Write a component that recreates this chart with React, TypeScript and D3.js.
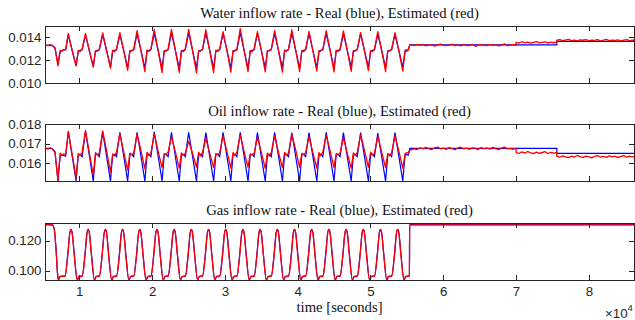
import { useEffect, useRef } from "react";
import * as d3 from "d3";

type Pt = [number, number];

// time axis (seconds), shown as x10^4
const xDomain: [number, number] = [5290, 86200];
const xTicks = [10000, 20000, 30000, 40000, 50000, 60000, 70000, 80000];

// sample times of the oscillating part, shared by the water and oil plots
const oscTimes = [
  5290, 5700, 6000, 6290, 6660, 7076, 7250, 7400, 7600, 7850, 8130,
  8490, 9030, 9560, 9860, 10110, 10390,
  10852, 11392, 11922, 12222, 12472, 12752,
  13214, 13754, 14284, 14584, 14834, 15114,
  15576, 16116, 16646, 16946, 17196, 17476,
  17938, 18478, 19008, 19308, 19558, 19838,
  20300, 20840, 21370, 21670, 21920, 22200,
  22662, 23202, 23732, 24032, 24282, 24562,
  25024, 25564, 26094, 26394, 26644, 26924,
  27386, 27926, 28456, 28756, 29006, 29286,
  29748, 30288, 30818, 31118, 31368, 31648,
  32110, 32650, 33180, 33480, 33730, 34010,
  34472, 35012, 35542, 35842, 36092, 36372,
  36834, 37374, 37904, 38204, 38454, 38734,
  39196, 39736, 40266, 40566, 40816, 41096,
  41558, 42098, 42628, 42928, 43178, 43458,
  43920, 44460, 44990, 45290, 45540, 45820,
  46282, 46822, 47352, 47652, 47902, 48182,
  48644, 49184, 49714, 50014, 50264, 50544,
  51006, 51546, 52076, 52376, 52626, 52906,
  53368, 53908, 54438, 54760, 55000, 55200,
  55400,
];

const waterReal = [
  0.0133, 0.0133, 0.0133, 0.01328, 0.0131, 0.0116, 0.0123, 0.0128, 0.01284, 0.0129, 0.01292,
  0.0142, 0.01285, 0.0115, 0.0128, 0.01286, 0.01292,
  0.0142, 0.01283, 0.01145, 0.0128, 0.01286, 0.01292,
  0.01425, 0.01283, 0.0114, 0.0128, 0.01286, 0.01292,
  0.01425, 0.0128, 0.01135, 0.0128, 0.01286, 0.01292,
  0.01432, 0.01282, 0.01132, 0.0128, 0.01286, 0.01292,
  0.01438, 0.01284, 0.0113, 0.0128, 0.01286, 0.01292,
  0.0144, 0.01285, 0.0113, 0.0128, 0.01286, 0.01292,
  0.0144, 0.01285, 0.0113, 0.0128, 0.01286, 0.01292,
  0.01438, 0.01284, 0.0113, 0.0128, 0.01286, 0.01292,
  0.01436, 0.01284, 0.01132, 0.0128, 0.01286, 0.01292,
  0.0144, 0.01285, 0.0113, 0.0128, 0.01286, 0.01292,
  0.01436, 0.01284, 0.01132, 0.0128, 0.01286, 0.01292,
  0.01436, 0.01284, 0.01132, 0.0128, 0.01286, 0.01292,
  0.01438, 0.01285, 0.01132, 0.0128, 0.01286, 0.01292,
  0.01434, 0.01284, 0.01134, 0.0128, 0.01286, 0.01292,
  0.01434, 0.01284, 0.01134, 0.0128, 0.01286, 0.01292,
  0.01432, 0.01284, 0.01136, 0.0128, 0.01286, 0.01292,
  0.01428, 0.01282, 0.01136, 0.0128, 0.01286, 0.01292,
  0.01428, 0.01283, 0.01138, 0.0128, 0.01286, 0.01292,
  0.01424, 0.01282, 0.0114, 0.01288, 0.0129, 0.0129,
  0.01334,
];

const waterEst = [
  0.01334, 0.01328, 0.01336, 0.0133, 0.01305, 0.0115, 0.0124, 0.01286, 0.01278, 0.01295, 0.0129,
  0.01435, 0.01282, 0.0115, 0.01286, 0.01276, 0.01296,
  0.01435, 0.01278, 0.0114, 0.01282, 0.01279, 0.01294,
  0.0144, 0.01286, 0.0113, 0.01288, 0.01274, 0.01297,
  0.01442, 0.0128, 0.0111, 0.01284, 0.0128, 0.01293,
  0.0146, 0.01284, 0.011, 0.0129, 0.01275, 0.01298,
  0.01468, 0.01279, 0.01092, 0.01283, 0.01278, 0.01295,
  0.0147, 0.01287, 0.01092, 0.01287, 0.01273, 0.01299,
  0.0147, 0.01283, 0.01088, 0.01281, 0.0128, 0.01294,
  0.01468, 0.01278, 0.01092, 0.01289, 0.01276, 0.01297,
  0.0145, 0.01285, 0.01095, 0.01284, 0.01279, 0.01292,
  0.01478, 0.01281, 0.011, 0.01286, 0.01274, 0.01298,
  0.0145, 0.01287, 0.01098, 0.01282, 0.01281, 0.01295,
  0.0146, 0.01279, 0.01095, 0.0129, 0.01277, 0.01296,
  0.01466, 0.01284, 0.011, 0.01285, 0.01275, 0.01293,
  0.01452, 0.0128, 0.01105, 0.01283, 0.0128, 0.01298,
  0.0146, 0.01286, 0.01098, 0.01288, 0.01276, 0.01294,
  0.01458, 0.01282, 0.01102, 0.01284, 0.01279, 0.01297,
  0.01442, 0.01279, 0.01108, 0.01287, 0.01274, 0.01295,
  0.0145, 0.01285, 0.011, 0.01283, 0.0128, 0.01296,
  0.01442, 0.01281, 0.01104, 0.01284, 0.01278, 0.01292,
  0.01336,
];

const oilReal = [
  0.01676, 0.01676, 0.01676, 0.01674, 0.0166, 0.0151, 0.0159, 0.01645, 0.01642, 0.0164, 0.01636,
  0.0176, 0.01635, 0.0151, 0.01642, 0.01646, 0.01634,
  0.01762, 0.01636, 0.0151, 0.01642, 0.01646, 0.01634,
  0.0176, 0.01635, 0.0151, 0.01642, 0.01646, 0.01634,
  0.01758, 0.01634, 0.0151, 0.01642, 0.01646, 0.01634,
  0.01758, 0.01634, 0.0151, 0.01642, 0.01646, 0.01634,
  0.0176, 0.01635, 0.0151, 0.01642, 0.01646, 0.01634,
  0.01758, 0.01634, 0.0151, 0.01642, 0.01646, 0.01634,
  0.01758, 0.01634, 0.0151, 0.01642, 0.01646, 0.01634,
  0.01756, 0.01633, 0.0151, 0.01642, 0.01646, 0.01634,
  0.01758, 0.01634, 0.0151, 0.01642, 0.01646, 0.01634,
  0.01758, 0.01634, 0.0151, 0.01642, 0.01646, 0.01634,
  0.01756, 0.01633, 0.0151, 0.01642, 0.01646, 0.01634,
  0.01758, 0.01634, 0.0151, 0.01642, 0.01646, 0.01634,
  0.01756, 0.01633, 0.0151, 0.01642, 0.01646, 0.01634,
  0.01756, 0.01633, 0.0151, 0.01642, 0.01646, 0.01634,
  0.01758, 0.01634, 0.0151, 0.01642, 0.01646, 0.01634,
  0.01756, 0.01633, 0.0151, 0.01642, 0.01646, 0.01634,
  0.01756, 0.01633, 0.0151, 0.01642, 0.01646, 0.01634,
  0.01754, 0.01632, 0.0151, 0.01642, 0.01646, 0.01634,
  0.01756, 0.01633, 0.0151, 0.01645, 0.01644, 0.01642,
  0.01676,
];

const oilEst = [
  0.01678, 0.01672, 0.0168, 0.01674, 0.01655, 0.01512, 0.016, 0.01652, 0.0164, 0.01648, 0.01645,
  0.01762, 0.01646, 0.01525, 0.0165, 0.0164, 0.01654,
  0.01768, 0.0165, 0.0154, 0.01654, 0.01643, 0.01651,
  0.01765, 0.01663, 0.01555, 0.01648, 0.01638, 0.01656,
  0.01752, 0.01655, 0.01565, 0.01652, 0.01644, 0.0165,
  0.01748, 0.01664, 0.01572, 0.01656, 0.01639, 0.01653,
  0.0175, 0.0166, 0.01578, 0.01649, 0.01645, 0.01657,
  0.01735, 0.01658, 0.01575, 0.01653, 0.01641, 0.0165,
  0.01712, 0.0165, 0.0158, 0.01657, 0.01638, 0.01654,
  0.01727, 0.01649, 0.01578, 0.0165, 0.01644, 0.01652,
  0.0174, 0.01661, 0.01576, 0.01654, 0.0164, 0.01656,
  0.01745, 0.01658, 0.0158, 0.01648, 0.01643, 0.01651,
  0.01732, 0.01656, 0.01574, 0.01652, 0.01637, 0.01655,
  0.01738, 0.01654, 0.01578, 0.01656, 0.01642, 0.0165,
  0.01748, 0.01667, 0.0158, 0.01651, 0.01645, 0.01654,
  0.01736, 0.01653, 0.01576, 0.01655, 0.01639, 0.01657,
  0.01742, 0.01662, 0.01578, 0.01649, 0.01644, 0.01652,
  0.0173, 0.0165, 0.01575, 0.01653, 0.0164, 0.01655,
  0.01745, 0.01665, 0.0158, 0.01657, 0.01643, 0.0165,
  0.01738, 0.01655, 0.01578, 0.0165, 0.01638, 0.01654,
  0.0174, 0.0166, 0.01575, 0.01648, 0.01655, 0.0165,
  0.01668,
];

// steady part after ~5.5e4 s
const waterRealFlat: Pt[] = [
  [55600, 0.01334], [75600, 0.01334], [75600, 0.01366], [86200, 0.01366],
];
const oilRealFlat: Pt[] = [
  [55600, 0.01676], [75600, 0.01676], [75600, 0.01651], [86200, 0.01651],
];

const waterEstFlat: Pt[] = [
  [55600, 0.01334], [56000, 0.01327], [56400, 0.01338], [56800, 0.01331], [57200, 0.01339],
  [57600, 0.01326], [58000, 0.01332], [58400, 0.01337], [58800, 0.01324], [59200, 0.01334],
  [59600, 0.01342], [60000, 0.0133], [60400, 0.01327], [60800, 0.01333], [61200, 0.0134],
  [61600, 0.01328], [62000, 0.01335], [62400, 0.01325], [62800, 0.01336], [63200, 0.01331],
  [63600, 0.01329], [64000, 0.01338], [64400, 0.01322], [64800, 0.01333], [65200, 0.01337],
  [65600, 0.01331], [66000, 0.01327], [66400, 0.0134], [66800, 0.0133], [67200, 0.01336],
  [67600, 0.01326], [68000, 0.01333], [68400, 0.01344], [68800, 0.01328], [69200, 0.01332],
  [69600, 0.01337], [70000, 0.01331],
  [70000, 0.01357], [70400, 0.01351], [70800, 0.01362], [71200, 0.01353], [71600, 0.01359],
  [72000, 0.01349], [72400, 0.01357], [72800, 0.01363], [73200, 0.01352], [73600, 0.01356],
  [74000, 0.0136], [74400, 0.0135], [74800, 0.01358], [75200, 0.01353], [75600, 0.01358],
  [75600, 0.01375], [76000, 0.0138], [76400, 0.01371], [76800, 0.01377], [77200, 0.01383],
  [77600, 0.01372], [78000, 0.01376], [78400, 0.01369], [78800, 0.01379], [79200, 0.01375],
  [79600, 0.01381], [80000, 0.01371], [80400, 0.01377], [80800, 0.01373], [81200, 0.0138],
  [81600, 0.0137], [82000, 0.01376], [82400, 0.01382], [82800, 0.01372], [83200, 0.01377],
  [83600, 0.01374], [84000, 0.01379], [84400, 0.0137], [84800, 0.01376], [85200, 0.0138],
  [85600, 0.01372], [86000, 0.01377], [86200, 0.01375],
];

const oilEstFlat: Pt[] = [
  [55600, 0.01668], [56000, 0.01674], [56400, 0.0167], [56800, 0.01679], [57200, 0.01673],
  [57600, 0.01681], [58000, 0.01675], [58400, 0.0167], [58800, 0.01678], [59200, 0.01683],
  [59600, 0.01674], [60000, 0.01677], [60400, 0.01671], [60800, 0.0168], [61200, 0.01675],
  [61600, 0.01669], [62000, 0.01678], [62400, 0.01682], [62800, 0.01673], [63200, 0.01677],
  [63600, 0.01671], [64000, 0.01679], [64400, 0.01676], [64800, 0.0167], [65200, 0.0168],
  [65600, 0.01674], [66000, 0.01678], [66400, 0.01672], [66800, 0.01681], [67200, 0.01675],
  [67600, 0.0167], [68000, 0.01677], [68400, 0.01683], [68800, 0.01673], [69200, 0.01676],
  [69600, 0.01671], [70000, 0.01677],
  [70000, 0.01656], [70400, 0.0165], [70800, 0.01658], [71200, 0.01652], [71600, 0.0166],
  [72000, 0.01653], [72400, 0.01649], [72800, 0.01657], [73200, 0.01651], [73600, 0.01655],
  [74000, 0.01659], [74400, 0.0165], [74800, 0.01656], [75200, 0.01652], [75600, 0.01655],
  [75600, 0.01636], [76000, 0.01631], [76400, 0.01638], [76800, 0.01633], [77200, 0.01629],
  [77600, 0.01637], [78000, 0.01632], [78400, 0.0164], [78800, 0.01634], [79200, 0.0163],
  [79600, 0.01637], [80000, 0.01633], [80400, 0.01628], [80800, 0.01636], [81200, 0.01639],
  [81600, 0.01632], [82000, 0.01635], [82400, 0.0163], [82800, 0.01638], [83200, 0.01633],
  [83600, 0.01636], [84000, 0.01629], [84400, 0.01635], [84800, 0.01639], [85200, 0.01631],
  [85600, 0.01636], [86000, 0.01632], [86200, 0.01635],
];

// gas plot samples
const gasTimes = [
  5290, 6290, 6550, 6800, 7050, 7150, 7350,
  8040, 8410, 8710, 8860, 9010, 9310, 9720, 9960,
  10402, 10772, 11072, 11222, 11372, 11672, 12082, 12322,
  12764, 13134, 13434, 13584, 13734, 14034, 14444, 14684,
  15126, 15496, 15796, 15946, 16096, 16396, 16806, 17046,
  17488, 17858, 18158, 18308, 18458, 18758, 19168, 19408,
  19850, 20220, 20520, 20670, 20820, 21120, 21530, 21770,
  22212, 22582, 22882, 23032, 23182, 23482, 23892, 24132,
  24574, 24944, 25244, 25394, 25544, 25844, 26254, 26494,
  26936, 27306, 27606, 27756, 27906, 28206, 28616, 28856,
  29298, 29668, 29968, 30118, 30268, 30568, 30978, 31218,
  31660, 32030, 32330, 32480, 32630, 32930, 33340, 33580,
  34022, 34392, 34692, 34842, 34992, 35292, 35702, 35942,
  36384, 36754, 37054, 37204, 37354, 37654, 38064, 38304,
  38746, 39116, 39416, 39566, 39716, 40016, 40426, 40666,
  41108, 41478, 41778, 41928, 42078, 42378, 42788, 43028,
  43470, 43840, 44140, 44290, 44440, 44740, 45150, 45390,
  45832, 46202, 46502, 46652, 46802, 47102, 47512, 47752,
  48194, 48564, 48864, 49014, 49164, 49464, 49874, 50114,
  50556, 50926, 51226, 51376, 51526, 51826, 52236, 52476,
  52918, 53288, 53588, 53738, 53888, 54188, 54598, 54838,
  55350, 55380, 86200,
];

const gasReal = [
  0.1307, 0.1306, 0.128, 0.115, 0.096, 0.0938, 0.0962,
  0.0965, 0.1105, 0.1258, 0.1276, 0.1258, 0.111, 0.0938, 0.0962,
  0.0965, 0.1105, 0.1258, 0.1276, 0.1258, 0.111, 0.0938, 0.0962,
  0.0965, 0.1105, 0.1258, 0.1276, 0.1258, 0.111, 0.0938, 0.0962,
  0.0965, 0.1105, 0.1258, 0.1276, 0.1258, 0.111, 0.0938, 0.0962,
  0.0965, 0.1105, 0.1258, 0.1276, 0.1258, 0.111, 0.0938, 0.0962,
  0.0965, 0.1105, 0.1258, 0.1276, 0.1258, 0.111, 0.0938, 0.0962,
  0.0965, 0.1105, 0.1258, 0.1276, 0.1258, 0.111, 0.0938, 0.0962,
  0.0965, 0.1105, 0.1258, 0.1276, 0.1258, 0.111, 0.0938, 0.0962,
  0.0965, 0.1105, 0.1258, 0.1276, 0.1258, 0.111, 0.0938, 0.0962,
  0.0965, 0.1105, 0.1258, 0.1276, 0.1258, 0.111, 0.0938, 0.0962,
  0.0965, 0.1105, 0.1258, 0.1276, 0.1258, 0.111, 0.0938, 0.0962,
  0.0965, 0.1105, 0.1258, 0.1276, 0.1258, 0.111, 0.0938, 0.0962,
  0.0965, 0.1105, 0.1258, 0.1276, 0.1258, 0.111, 0.0938, 0.0962,
  0.0965, 0.1105, 0.1258, 0.1276, 0.1258, 0.111, 0.0938, 0.0962,
  0.0965, 0.1105, 0.1258, 0.1276, 0.1258, 0.111, 0.0938, 0.0962,
  0.0965, 0.1105, 0.1258, 0.1276, 0.1258, 0.111, 0.0938, 0.0962,
  0.0965, 0.1105, 0.1258, 0.1276, 0.1258, 0.111, 0.0938, 0.0962,
  0.0965, 0.1105, 0.1258, 0.1276, 0.1258, 0.111, 0.0938, 0.0962,
  0.0965, 0.1105, 0.1258, 0.1276, 0.1258, 0.111, 0.0938, 0.0962,
  0.0965, 0.1105, 0.1258, 0.1276, 0.1258, 0.111, 0.0938, 0.0962,
  0.0965, 0.1307, 0.1307,
];

const gasEst = [
  0.1307, 0.1306, 0.1278, 0.1145, 0.0962, 0.0939, 0.096,
  0.0963, 0.1098, 0.1252, 0.1274, 0.1254, 0.1104, 0.0939, 0.096,
  0.0962, 0.1096, 0.1253, 0.1275, 0.1252, 0.1102, 0.0939, 0.0961,
  0.0963, 0.1099, 0.1251, 0.1274, 0.1255, 0.1105, 0.0939, 0.096,
  0.0962, 0.1097, 0.1252, 0.1275, 0.1253, 0.1103, 0.0939, 0.0961,
  0.0963, 0.1098, 0.1254, 0.1274, 0.1252, 0.1104, 0.0939, 0.096,
  0.0962, 0.1096, 0.1252, 0.1275, 0.1254, 0.1102, 0.0939, 0.0961,
  0.0963, 0.1099, 0.1251, 0.1274, 0.1253, 0.1105, 0.0939, 0.096,
  0.0962, 0.1097, 0.1253, 0.1275, 0.1252, 0.1103, 0.0939, 0.0961,
  0.0963, 0.1098, 0.1252, 0.1274, 0.1255, 0.1104, 0.0939, 0.096,
  0.0962, 0.1096, 0.1254, 0.1275, 0.1253, 0.1102, 0.0939, 0.0961,
  0.0963, 0.1099, 0.1251, 0.1274, 0.1252, 0.1105, 0.0939, 0.096,
  0.0962, 0.1097, 0.1253, 0.1275, 0.1254, 0.1103, 0.0939, 0.0961,
  0.0963, 0.1098, 0.1252, 0.1274, 0.1253, 0.1104, 0.0939, 0.096,
  0.0962, 0.1096, 0.1254, 0.1275, 0.1252, 0.1102, 0.0939, 0.0961,
  0.0963, 0.1099, 0.1251, 0.1274, 0.1255, 0.1105, 0.0939, 0.096,
  0.0962, 0.1097, 0.1253, 0.1275, 0.1253, 0.1103, 0.0939, 0.0961,
  0.0963, 0.1098, 0.1252, 0.1274, 0.1254, 0.1104, 0.0939, 0.096,
  0.0962, 0.1096, 0.1254, 0.1275, 0.1252, 0.1102, 0.0939, 0.0961,
  0.0963, 0.1099, 0.1251, 0.1274, 0.1253, 0.1105, 0.0939, 0.096,
  0.0962, 0.1097, 0.1253, 0.1275, 0.1254, 0.1103, 0.0939, 0.0961,
  0.0963, 0.1306, 0.1306,
];

const zip = (ts: number[], vs: number[]): Pt[] => ts.map((t, i) => [t, vs[i]]);

const panels = [
  {
    title: "Water inflow rate - Real (blue), Estimated (red)",
    top: 26,
    bottom: 83,
    yDomain: [0.01, 0.015],
    yTicks: [0.01, 0.012, 0.014],
    real: [...zip(oscTimes, waterReal), ...waterRealFlat],
    est: [...zip(oscTimes, waterEst), ...waterEstFlat],
    curve: d3.curveLinear,
  },
  {
    title: "Oil inflow rate - Real (blue), Estimated (red)",
    top: 124,
    bottom: 181,
    yDomain: [0.0151, 0.018],
    yTicks: [0.016, 0.017, 0.018],
    real: [...zip(oscTimes, oilReal), ...oilRealFlat],
    est: [...zip(oscTimes, oilEst), ...oilEstFlat],
    curve: d3.curveLinear,
  },
  {
    title: "Gas inflow rate - Real (blue), Estimated (red)",
    top: 223.3,
    bottom: 280,
    yDomain: [0.0938, 0.1316],
    yTicks: [0.1, 0.12],
    real: zip(gasTimes, gasReal),
    est: zip(gasTimes, gasEst),
    curve: d3.curveMonotoneX,
  },
];

const W = 635;
const H = 320;
const left = 45;
const right = 634;
const axisColor = "#262626";
const sans = "'Liberation Sans', Arial, Helvetica, sans-serif";
const serif = "'Liberation Serif', 'Times New Roman', serif";

const App = () => {
  const svgRef = useRef<SVGSVGElement | null>(null);

  useEffect(() => {
    const svg = d3.select(svgRef.current);
    svg.selectAll("*").remove();

    const x = d3.scaleLinear().domain(xDomain).range([left, right]);

    panels.forEach((p, i) => {
      const y = d3.scaleLinear().domain(p.yDomain).range([p.bottom, p.top]);
      const g = svg.append("g");
      const clipId = `clip-${i}`;

      svg
        .append("clipPath")
        .attr("id", clipId)
        .append("rect")
        .attr("x", left)
        .attr("y", p.top)
        .attr("width", right - left)
        .attr("height", p.bottom - p.top);

      const line = d3
        .line<Pt>()
        .x((d) => x(d[0]))
        .y((d) => y(d[1]))
        .curve(p.curve);

      g.append("path")
        .datum(p.real)
        .attr("d", line)
        .attr("fill", "none")
        .attr("stroke", "#0000ff")
        .attr("stroke-width", 1.2)
        .attr("clip-path", `url(#${clipId})`);

      g.append("path")
        .datum(p.est)
        .attr("d", line)
        .attr("fill", "none")
        .attr("stroke", "#ff0000")
        .attr("stroke-width", 1.3)
        .attr("stroke-linejoin", "round")
        .attr("clip-path", `url(#${clipId})`);

      const last = i === panels.length - 1;

      const styleAxis = (a: d3.Selection<SVGGElement, unknown, null, undefined>) =>
        a
          .attr("color", axisColor)
          .attr("font-family", sans)
          .attr("font-size", 13.3)
          .call((s) => s.select(".domain").remove())
          .call((s) => s.selectAll(".tick line").attr("shape-rendering", "crispEdges"));

      g.append("g")
        .attr("transform", `translate(0,${p.bottom})`)
        .call(
          d3
            .axisBottom(x)
            .tickValues(xTicks)
            .tickSizeInner(-5)
            .tickSizeOuter(0)
            .tickPadding(7)
            .tickFormat((d) => (last ? String(+d / 1e4) : ""))
        )
        .call(styleAxis);

      g.append("g")
        .attr("transform", `translate(0,${p.top})`)
        .call(d3.axisTop(x).tickValues(xTicks).tickSizeInner(-5).tickSizeOuter(0).tickFormat(() => ""))
        .call(styleAxis);

      g.append("g")
        .attr("transform", `translate(${left},0)`)
        .call(
          d3
            .axisLeft(y)
            .tickValues(p.yTicks)
            .tickSizeInner(-5)
            .tickSizeOuter(0)
            .tickPadding(3.5)
            .tickFormat(d3.format(".3f"))
        )
        .call(styleAxis);

      g.append("g")
        .attr("transform", `translate(${right},0)`)
        .call(d3.axisRight(y).tickValues(p.yTicks).tickSizeInner(-5).tickSizeOuter(0).tickFormat(() => ""))
        .call(styleAxis);

      g.append("rect")
        .attr("x", left)
        .attr("y", p.top)
        .attr("width", right - left)
        .attr("height", p.bottom - p.top)
        .attr("fill", "none")
        .attr("stroke", axisColor)
        .attr("stroke-width", 1)
        .attr("shape-rendering", "crispEdges");

      g.append("text")
        .attr("x", (left + right) / 2)
        .attr("y", p.top - 8.5)
        .attr("text-anchor", "middle")
        .attr("font-family", serif)
        .attr("font-size", 14.7)
        .attr("fill", "#111")
        .text(p.title);
    });

    svg
      .append("text")
      .attr("x", (left + right) / 2)
      .attr("y", 312)
      .attr("text-anchor", "middle")
      .attr("font-family", serif)
      .attr("font-size", 14.7)
      .attr("fill", "#111")
      .text("time [seconds]");

    const exp = svg
      .append("text")
      .attr("x", 605)
      .attr("y", 317.5)
      .attr("font-family", sans)
      .attr("font-size", 13.3)
      .attr("fill", axisColor);
    exp.append("tspan").text("×10");
    exp.append("tspan").attr("font-size", 9.5).attr("dy", -7).text("4");
  }, []);

  return (
    <svg
      ref={svgRef}
      width={W}
      height={H}
      style={{ position: "absolute", left: 0, top: 0, background: "#fff" }}
    />
  );
};

export default App;
